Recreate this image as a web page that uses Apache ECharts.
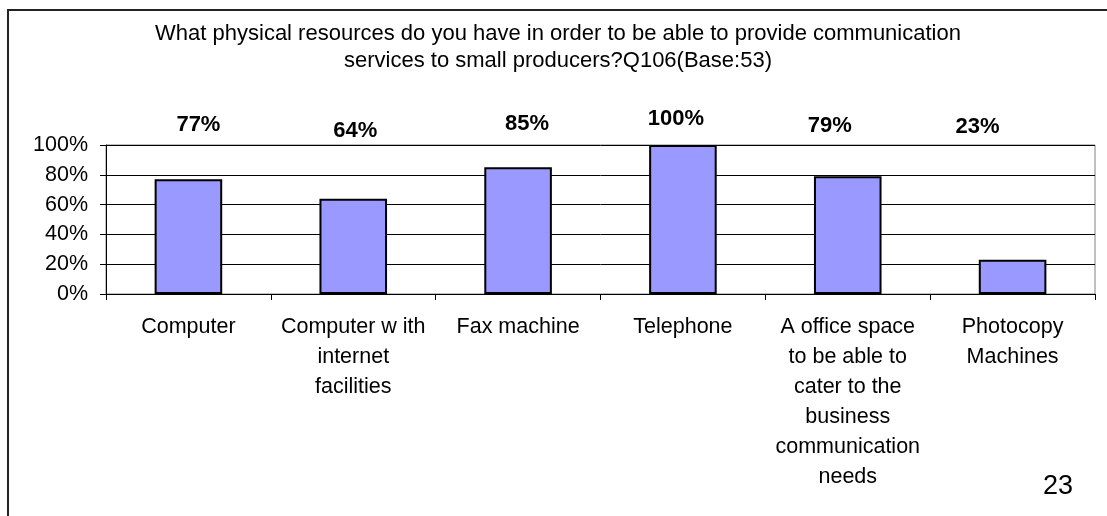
<!DOCTYPE html>
<html>
<head>
<meta charset="utf-8">
<script src="https://cdn.jsdelivr.net/npm/echarts@6/dist/echarts.min.js"></script>
<style>
  html, body { margin: 0; padding: 0; background: #fff; }
  #chart { width: 1107px; height: 516px; }
</style>
</head>
<body>
<div id="chart"></div>
<script>
// Survey answers: share of respondents having each resource
const categories = [
  'Computer',
  'Computer w ith\ninternet\nfacilities',
  'Fax machine',
  'Telephone',
  'A office space\nto be able to\ncater to the\nbusiness\ncommunication\nneeds',
  'Photocopy\nMachines'
];
const shares = [77, 64, 85, 100, 79, 23];
const yTicks = [0, 20, 40, 60, 80, 100];
const titleLines = [
  'What physical resources do you have in order to be able to provide communication',
  'services to small producers?Q106(Base:53)'
];
const pageNumber = '23';

// Value labels sit in a row above the plot, nudged sideways
const labelShiftX = [10, 2, 9, -7, -18, -35];
const labelRowY = [125, 131, 124, 119, 126, 127];

const FONT = '"Liberation Sans", Arial, sans-serif';

const chart = echarts.init(document.getElementById('chart'), null, { renderer: 'canvas' });

chart.setOption({
  animation: false,
  backgroundColor: '#ffffff',
  grid: {
    left: 106,
    right: 12,
    top: 145,
    bottom: 222,
    show: true,
    borderColor: '#808080',
    borderWidth: 1,
    backgroundColor: 'transparent'
  },
  xAxis: {
    type: 'category',
    data: categories,
    boundaryGap: true,
    axisLine: { show: true, lineStyle: { color: '#000', width: 1 } },
    axisTick: { show: true, alignWithLabel: false, length: 6, lineStyle: { color: '#000' } },
    axisLabel: {
      interval: 0,
      margin: 18,
      fontFamily: FONT,
      fontSize: 21.5,
      lineHeight: 30,
      color: '#000',
      align: 'center'
    },
    splitLine: { show: false }
  },
  yAxis: {
    type: 'value',
    min: yTicks[0],
    max: yTicks[yTicks.length - 1],
    interval: yTicks[1] - yTicks[0],
    axisLine: { show: true, lineStyle: { color: '#000', width: 1 } },
    axisTick: { show: true, length: 6, lineStyle: { color: '#000' } },
    axisLabel: {
      margin: 18,
      fontFamily: FONT,
      fontSize: 21.5,
      color: '#000',
      formatter: v => v + '%'
    },
    splitLine: { show: true, lineStyle: { color: '#000', width: 1 } }
  },
  series: [{
    type: 'bar',
    data: shares,
    barCategoryGap: '59%',
    itemStyle: {
      color: '#9999ff',
      borderColor: '#000',
      borderWidth: 2
    },
    label: {
      show: true,
      position: 'top',
      formatter: p => p.value + '%',
      fontFamily: FONT,
      fontWeight: 'bold',
      fontSize: 22,
      color: '#000'
    },
    labelLayout: params => ({
      x: params.rect.x + params.rect.width / 2 + labelShiftX[params.dataIndex],
      y: labelRowY[params.dataIndex],
      align: 'center',
      verticalAlign: 'middle'
    })
  }],
  graphic: [
    {
      // slide frame: top and left edges
      type: 'polyline',
      shape: { points: [[8, 516], [8, 10], [1107, 10]] },
      style: { stroke: '#222', lineWidth: 2, fill: null },
      silent: true
    },
    {
      // chart heading, two centred lines
      type: 'text',
      x: 558,
      y: 20,
      style: {
        text: titleLines.join('\n'),
        align: 'center',
        verticalAlign: 'top',
        fontFamily: FONT,
        fontSize: 22,
        lineHeight: 27,
        fill: '#000'
      }
    },
    {
      type: 'text',
      left: 1043,
      top: 473,
      style: {
        text: pageNumber,
        fontFamily: FONT,
        fontSize: 27,
        fill: '#000'
      }
    }
  ]
});
</script>
</body>
</html>
